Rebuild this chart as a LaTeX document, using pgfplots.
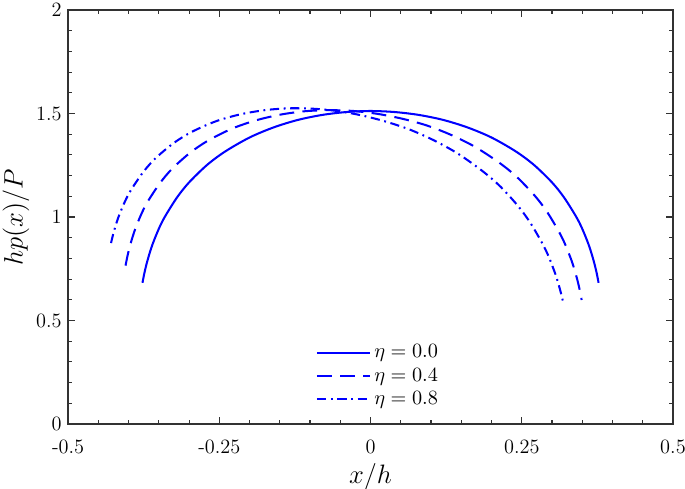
\documentclass[border=0pt]{standalone}
\usepackage{pgfplots}
\pgfplotsset{compat=1.18}
\definecolor{axgray}{RGB}{50,50,50}
\begin{document}
\begin{tikzpicture}
\begin{axis}[
  name=ax,
  width=327pt, height=223.8pt, scale only axis,
  xmin=-0.5, xmax=0.5, ymin=0, ymax=2,
  xtick={-0.5,-0.25,0,0.25,0.5},
  xticklabels={-0.5,-0.25,0,0.25,0.5},
  ytick={0,0.5,1,1.5,2},
  yticklabels={0,0.5,1,1.5,2},
  minor x tick num=4, minor y tick num=4,
  tick align=inside,
  major tick length=3.8pt, minor tick length=2.2pt,
  axis line style={draw=axgray, line width=0.9pt},
  tick style={draw=axgray, line width=0.6pt},
  ticklabel style={font=\fontsize{11}{13}\selectfont},
  xticklabel style={anchor=base, yshift=-15.7pt},
  xlabel={$x/h$}, ylabel={$hp(x)/P$},
  xlabel style={font=\fontsize{13.5}{16}\selectfont, at={(axis description cs:0.5,0)}, anchor=base, yshift=-31.9pt},
  ylabel style={font=\fontsize{13.5}{16}\selectfont, at={(axis description cs:-0.086,0.5)}, anchor=center},
  legend style={at={(0.40,0.21)}, anchor=north west, draw=none, fill=none,
                row sep=0pt, font=\fontsize{11}{13}\selectfont},
  legend cell align=left,
  legend image code/.code={\draw[#1] (0cm,0cm) -- (1.0cm,0cm);},
]
% eta = 0.0
\addplot[blue, line width=1.1pt, smooth, tension=0.5] coordinates {
(-0.377,0.682)(-0.374,0.727)(-0.370,0.776)(-0.365,0.827)(-0.360,0.871)
(-0.350,0.943)(-0.340,1.001)(-0.320,1.094)(-0.300,1.167)(-0.270,1.252)
(-0.240,1.317)(-0.200,1.384)(-0.160,1.433)(-0.120,1.469)(-0.080,1.493)
(-0.040,1.507)(0.000,1.512)(0.040,1.507)(0.080,1.493)(0.120,1.469)
(0.160,1.433)(0.200,1.384)(0.240,1.317)(0.270,1.252)(0.300,1.167)
(0.320,1.094)(0.340,1.001)(0.350,0.943)(0.360,0.871)(0.365,0.827)
(0.370,0.776)(0.374,0.727)(0.377,0.682)};
% eta = 0.4
\addplot[blue, line width=1.1pt, smooth, tension=0.5, dash pattern=on 8pt off 4.5pt] coordinates {
(-0.405,0.765)(-0.402,0.809)(-0.398,0.857)(-0.393,0.907)(-0.388,0.950)
(-0.378,1.020)(-0.368,1.076)(-0.348,1.164)(-0.328,1.233)(-0.298,1.311)
(-0.268,1.370)(-0.228,1.428)(-0.188,1.468)(-0.148,1.495)(-0.108,1.511)
(-0.068,1.516)(-0.028,1.512)(0.012,1.498)(0.052,1.475)(0.092,1.443)
(0.132,1.398)(0.172,1.340)(0.212,1.264)(0.242,1.193)(0.272,1.101)
(0.292,1.024)(0.312,0.926)(0.322,0.866)(0.332,0.792)(0.337,0.747)
(0.342,0.695)(0.346,0.645)(0.349,0.599)};
% eta = 0.8
\addplot[blue, line width=1.1pt, smooth, tension=0.5, dash pattern=on 5pt off 2.5pt on 1pt off 2.5pt] coordinates {
(-0.429,0.874)(-0.425,0.922)(-0.420,0.971)(-0.415,1.013)(-0.405,1.081)
(-0.395,1.135)(-0.375,1.220)(-0.355,1.285)(-0.325,1.358)(-0.295,1.412)
(-0.255,1.463)(-0.215,1.496)(-0.175,1.516)(-0.135,1.525)(-0.095,1.523)
(-0.055,1.512)(-0.015,1.491)(0.025,1.461)(0.065,1.422)(0.105,1.370)
(0.145,1.305)(0.185,1.222)(0.215,1.146)(0.245,1.049)(0.265,0.968)
(0.285,0.867)(0.295,0.805)(0.305,0.729)(0.310,0.683)(0.315,0.630)
(0.319,0.580)};
\legend{$\eta=0.0$, $\eta=0.4$, $\eta=0.8$}
\end{axis}
\pgfresetboundingbox
\useasboundingbox ([shift={(-36.8pt,-35.1pt)}]ax.south west) rectangle ([shift={(6.5pt,5.4pt)}]ax.north east);
\end{tikzpicture}
\end{document}
